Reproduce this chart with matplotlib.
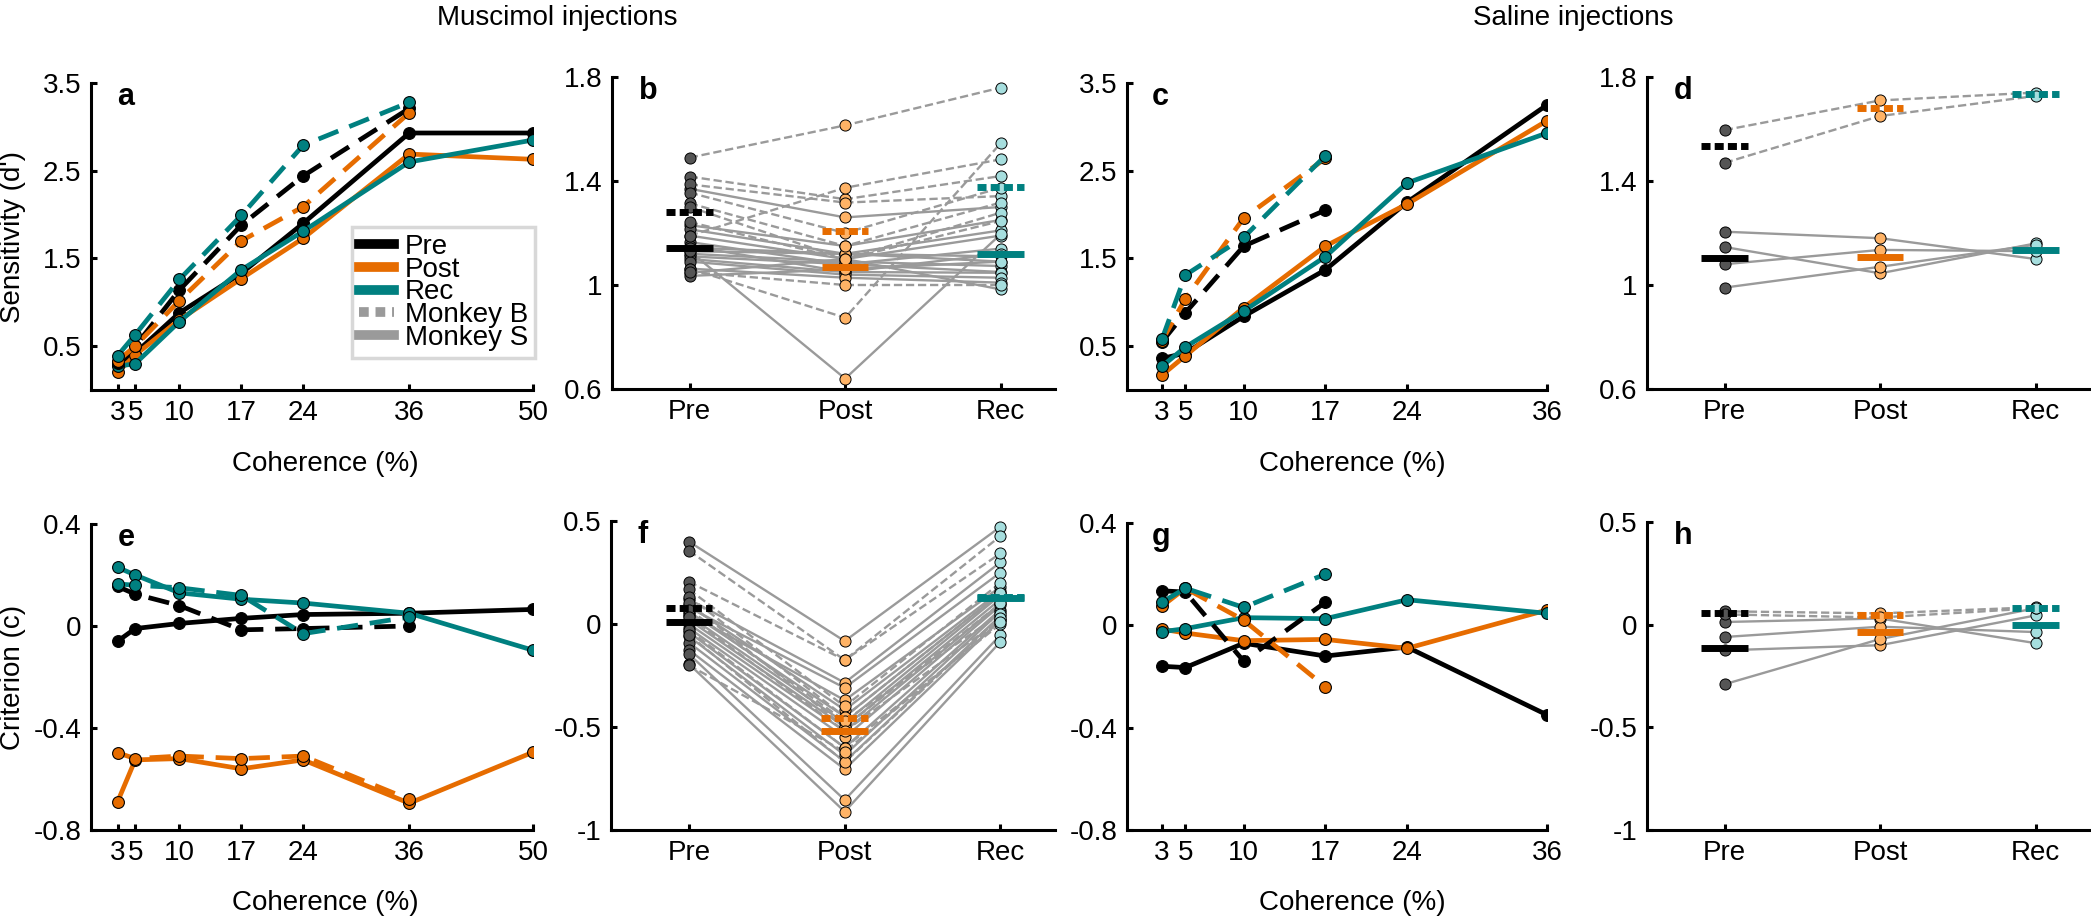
import numpy as np
import matplotlib
matplotlib.use("Agg")
import matplotlib.pyplot as plt
from matplotlib.lines import Line2D

plt.rcParams['font.family'] = ['Liberation Sans', 'DejaVu Sans']
plt.rcParams['font.size'] = 20

# ---------------- data ----------------
coh_musc = [3, 5, 10, 17, 24, 36, 50]
coh_musc_B = [3, 5, 10, 17, 24, 36]
coh_sal = [3, 5, 10, 17, 24, 36]
coh_sal_B = [3, 5, 10, 17]

# a: muscimol sensitivity
a_pre_S = [0.30, 0.42, 0.88, 1.33, 1.90, 2.93, 2.93]
a_post_S = [0.20, 0.40, 0.80, 1.27, 1.73, 2.69, 2.63]
a_rec_S = [0.27, 0.30, 0.78, 1.37, 1.81, 2.60, 2.85]
a_pre_B = [0.31, 0.50, 1.14, 1.88, 2.44, 3.21]
a_post_B = [0.33, 0.50, 1.02, 1.70, 2.09, 3.16]
a_rec_B = [0.39, 0.63, 1.26, 1.99, 2.79, 3.28]

# c: saline sensitivity
c_pre_S = [0.36, 0.42, 0.84, 1.37, 2.14, 3.25]
c_post_S = [0.17, 0.39, 0.94, 1.64, 2.12, 3.07]
c_rec_S = [0.27, 0.49, 0.90, 1.52, 2.36, 2.93]
c_pre_B = [0.55, 0.88, 1.64, 2.05]
c_post_B = [0.56, 1.04, 1.96, 2.64]
c_rec_B = [0.58, 1.31, 1.74, 2.67]

# e: muscimol criterion
e_pre_S = [-0.06, -0.01, 0.01, 0.03, 0.045, 0.05, 0.065]
e_post_S = [-0.69, -0.525, -0.52, -0.56, -0.525, -0.695, -0.495]
e_rec_S = [0.23, 0.20, 0.13, 0.105, 0.09, 0.05, -0.095]
e_pre_B = [0.155, 0.125, 0.08, -0.015, -0.01, 0.0]
e_post_B = [-0.497, -0.52, -0.51, -0.52, -0.51, -0.68]
e_rec_B = [0.165, 0.16, 0.15, 0.12, -0.03, 0.035]

# g: saline criterion
g_pre_S = [-0.16, -0.165, -0.07, -0.12, -0.085, -0.35]
g_post_S = [-0.015, -0.03, -0.06, -0.055, -0.09, 0.06]
g_rec_S = [-0.025, -0.013, 0.03, 0.026, 0.10, 0.047]
g_pre_B = [0.135, 0.13, -0.14, 0.09]
g_post_B = [0.075, 0.145, 0.02, -0.24]
g_rec_B = [0.09, 0.145, 0.07, 0.20]

# b: muscimol sensitivity per session
b_pre_B = [1.49, 1.417, 1.387, 1.355, 1.314, 1.30, 1.242, 1.19, 1.063, 1.05]
b_post_B = [1.614, 1.33, 1.317, 1.20, 1.15, 1.10, 1.099, 1.374, 0.874, 1.0]
b_rec_B = [1.759, 1.419, 1.342, 1.374, 1.317, 1.278, 1.246, 1.483, 1.545, 1.0]
b_pre_S = [1.37, 1.23, 1.214, 1.19, 1.165, 1.15, 1.144, 1.13, 1.12, 1.11,
           1.10, 1.09, 1.063, 1.047, 1.035, 1.13]
b_post_S = [1.26, 1.15, 1.12, 1.10, 1.08, 1.05, 1.12, 0.64, 1.09, 1.08,
            1.05, 1.04, 1.028, 1.10, 1.06, 1.12]
b_rec_S = [1.30, 1.25, 1.21, 1.19, 1.14, 1.12, 1.11, 1.195, 1.073, 1.05,
           1.047, 1.028, 1.009, 0.983, 1.09, 1.09]

# d: saline sensitivity per session
d_pre_B = [1.596, 1.47]
d_post_B = [1.71, 1.65]
d_rec_B = [1.74, 1.727]
d_pre_S = [1.205, 1.146, 1.08, 0.99]
d_post_S = [1.18, 1.045, 1.135, 1.07]
d_rec_S = [1.10, 1.16, 1.13, 1.155]

# f: muscimol criterion per session
f_pre_B = [0.356, 0.205, 0.168, 0.133, 0.10, 0.07, 0.036, -0.03, -0.053, -0.20]
f_post_B = [-0.175, -0.175, -0.40, -0.45, -0.50, -0.47, -0.52, -0.60, -0.67, -0.62]
f_rec_B = [0.427, 0.343, 0.20, 0.15, 0.10, 0.05, 0.02, 0.0, 0.03, 0.01]
f_pre_S = [0.40, 0.12, 0.08, 0.05, 0.09, 0.06, 0.04, 0.02, 0.0, -0.02,
           -0.04, -0.06, -0.09, -0.126, -0.146, -0.194]
f_post_S = [-0.083, -0.285, -0.31, -0.37, -0.417, -0.45, -0.48, -0.50, -0.52, -0.55,
            -0.60, -0.636, -0.668, -0.705, -0.854, -0.911]
f_rec_S = [0.472, 0.30, 0.25, 0.18, 0.16, 0.15, 0.14, 0.12, 0.10, 0.09,
           0.07, 0.06, 0.04, 0.02, -0.053, -0.086]

# h: saline criterion per session
h_pre_B = [0.065, 0.05]
h_post_B = [0.055, 0.035]
h_rec_B = [0.085, 0.08]
h_pre_S = [0.013, -0.06, -0.125, -0.29]
h_post_S = [0.03, -0.01, -0.10, -0.07]
h_rec_S = [-0.09, -0.036, 0.045, 0.08]

conditions = ['Pre', 'Post', 'Rec']

# ---------------- style ----------------
BLACK = '#000000'
ORANGE = '#E66C00'
TEAL = '#008080'
line_cols = [BLACK, ORANGE, TEAL]
pt_cols = ['#555555', '#FFB366', '#A6DEDE']
GRAY = '#9a9a9a'
DASH_THICK = (0, (4.5, 2.5))
DASH_THIN = (0, (3.5, 1.6))
DOTBAR = (0, (1.3, 0.6))

W, H = 2091, 919
fig = plt.figure(figsize=(W / 100, H / 100), dpi=100)


def box(x0, y0, x1, y1):
    return [x0 / W, 1 - y1 / H, (x1 - x0) / W, (y1 - y0) / H]


def style_axes(ax, letter):
    for s in ['top', 'right']:
        ax.spines[s].set_visible(False)
    for s in ['left', 'bottom']:
        ax.spines[s].set_linewidth(2.2)
    ax.tick_params(direction='in', length=4, width=2.2, labelsize=20, pad=7)
    ax.text(0.06, 0.955, letter, transform=ax.transAxes, fontsize=22,
            fontweight='bold', ha='left', va='center')


def curve_panel(ax, xs, xsB, S, B, ylim, yticks, yticklabels, letter):
    for ys, c in zip(S, line_cols):
        ax.plot(xs, ys, color=c, lw=3.4, marker='o', ms=8.5, mfc=c, mec='black',
                mew=0.8, zorder=3)
    for ys, c in zip(B, line_cols):
        ax.plot(xsB, ys, color=c, lw=3.4, ls=DASH_THICK, marker='o', ms=8.5, mfc=c,
                mec='black', mew=0.8, zorder=3)
    ax.set_xlim(0, xs[-1])
    ax.set_xticks(xs)
    ax.set_ylim(*ylim)
    ax.set_yticks(yticks)
    ax.set_yticklabels(yticklabels)
    style_axes(ax, letter)


def session_panel(ax, S, B, ylim, yticks, yticklabels, letter):
    xs = np.array([1, 2, 3])
    for arr, ls in [(S, '-'), (B, DASH_THIN)]:
        vals = np.array(arr).T
        for row in vals:
            ax.plot(xs, row, color=GRAY, lw=1.7, ls=ls, zorder=2)
    for i in range(3):
        allv = list(S[i]) + list(B[i])
        ax.plot(np.full(len(allv), xs[i]), allv, ls='none', marker='o', ms=8,
                mfc=pt_cols[i], mec='black', mew=0.7, zorder=3)
    for i in range(3):
        ax.plot([xs[i] - 0.15, xs[i] + 0.15], [np.mean(S[i])] * 2, color=line_cols[i],
                lw=5, solid_capstyle='butt', zorder=4)
        ax.plot([xs[i] - 0.15, xs[i] + 0.15], [np.mean(B[i])] * 2, color=line_cols[i],
                lw=5, ls=DOTBAR, dash_capstyle='butt', zorder=4)
    ax.set_xlim(0.5, 3.35)
    ax.set_xticks(xs)
    ax.set_xticklabels(conditions)
    ax.set_ylim(*ylim)
    ax.set_yticks(yticks)
    ax.set_yticklabels(yticklabels)
    style_axes(ax, letter)


ax_a = fig.add_axes(box(91, 83, 533, 390))
ax_b = fig.add_axes(box(612, 77, 1055, 389))
ax_c = fig.add_axes(box(1127, 83, 1547, 390))
ax_d = fig.add_axes(box(1647, 77, 2090, 389))
ax_e = fig.add_axes(box(91, 524, 533, 830))
ax_f = fig.add_axes(box(611, 521, 1055, 830))
ax_g = fig.add_axes(box(1127, 523, 1547, 830))
ax_h = fig.add_axes(box(1647, 522, 2090, 830))

sens_ticks = [0.5, 1.5, 2.5, 3.5]
sens_lbl = ['0.5', '1.5', '2.5', '3.5']
crit_ticks = [-0.8, -0.4, 0, 0.4]
crit_lbl = ['-0.8', '-0.4', '0', '0.4']

curve_panel(ax_a, coh_musc, coh_musc_B, [a_pre_S, a_post_S, a_rec_S],
            [a_pre_B, a_post_B, a_rec_B], (0, 3.5), sens_ticks, sens_lbl, 'a')
curve_panel(ax_c, coh_sal, coh_sal_B, [c_pre_S, c_post_S, c_rec_S],
            [c_pre_B, c_post_B, c_rec_B], (0, 3.5), sens_ticks, sens_lbl, 'c')
curve_panel(ax_e, coh_musc, coh_musc_B, [e_pre_S, e_post_S, e_rec_S],
            [e_pre_B, e_post_B, e_rec_B], (-0.8, 0.4), crit_ticks, crit_lbl, 'e')
curve_panel(ax_g, coh_sal, coh_sal_B, [g_pre_S, g_post_S, g_rec_S],
            [g_pre_B, g_post_B, g_rec_B], (-0.8, 0.4), crit_ticks, crit_lbl, 'g')

dp_ticks = [0.6, 1.0, 1.4, 1.8]
dp_lbl = ['0.6', '1', '1.4', '1.8']
c_ticks = [-1, -0.5, 0, 0.5]
c_lbl = ['-1', '-0.5', '0', '0.5']

session_panel(ax_b, [b_pre_S, b_post_S, b_rec_S], [b_pre_B, b_post_B, b_rec_B],
              (0.6, 1.8), dp_ticks, dp_lbl, 'b')
session_panel(ax_d, [d_pre_S, d_post_S, d_rec_S], [d_pre_B, d_post_B, d_rec_B],
              (0.6, 1.8), dp_ticks, dp_lbl, 'd')
session_panel(ax_f, [f_pre_S, f_post_S, f_rec_S], [f_pre_B, f_post_B, f_rec_B],
              (-1, 0.5), c_ticks, c_lbl, 'f')
session_panel(ax_h, [h_pre_S, h_post_S, h_rec_S], [h_pre_B, h_post_B, h_rec_B],
              (-1, 0.5), c_ticks, c_lbl, 'h')

# labels and titles
fig.text(557 / W, 1 - 18 / H, 'Muscimol injections', ha='center', va='center', fontsize=20)
fig.text(1573 / W, 1 - 18 / H, 'Saline injections', ha='center', va='center', fontsize=20)
fig.text(13 / W, 1 - 237 / H, "Sensitivity (d')", rotation=90, ha='center', va='center', fontsize=20)
fig.text(13 / W, 1 - 677 / H, 'Criterion (c)', rotation=90, ha='center', va='center', fontsize=20)
for xc in [325, 1352]:
    fig.text(xc / W, 1 - 464 / H, 'Coherence (%)', ha='center', va='center', fontsize=20)
    fig.text(xc / W, 1 - 903 / H, 'Coherence (%)', ha='center', va='center', fontsize=20)

# legend
handles = [Line2D([], [], color=BLACK, lw=7),
           Line2D([], [], color=ORANGE, lw=7),
           Line2D([], [], color=TEAL, lw=7),
           Line2D([], [], color=GRAY, lw=7, ls=(0, (1, 0.7))),
           Line2D([], [], color=GRAY, lw=7)]
leg = fig.legend(handles, ['Pre', 'Post', 'Rec', 'Monkey B', 'Monkey S'],
                 loc='upper left', bbox_to_anchor=(352 / W, 1 - 227 / H),
                 fontsize=20, frameon=True, fancybox=False, borderpad=0.25,
                 labelspacing=-0.12, handlelength=1.25, handletextpad=0.4,
                 borderaxespad=0)
leg.get_frame().set_edgecolor('#cfcfcf')
leg.get_frame().set_linewidth(2.5)

fig.savefig('out.png', dpi=100)
